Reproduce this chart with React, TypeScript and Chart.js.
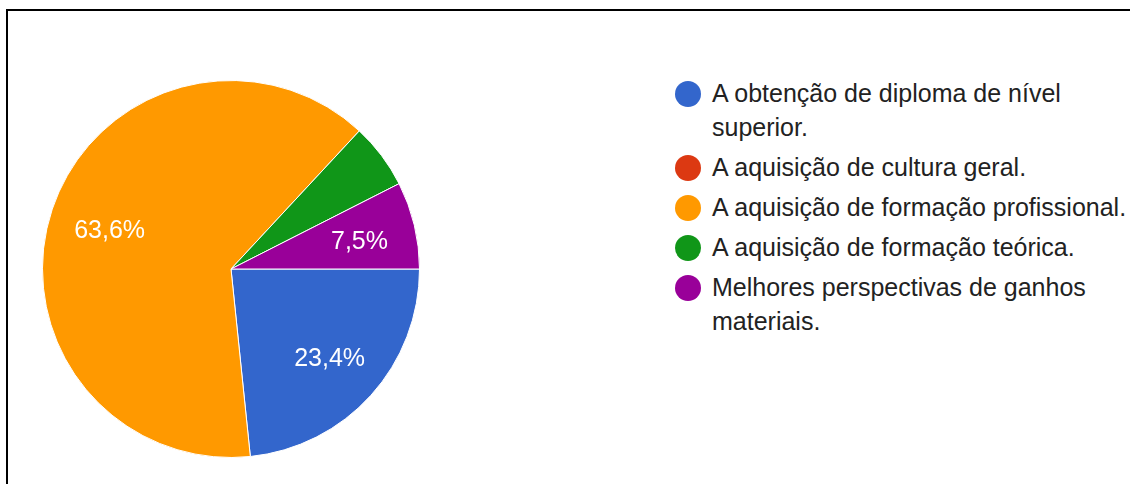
import React, { useEffect, useRef } from "react";
import { Chart, registerables } from "chart.js";

Chart.register(...registerables);

const categories: string[] = [
  "A obtenção de diploma de nível superior.",
  "A aquisição de cultura geral.",
  "A aquisição de formação profissional.",
  "A aquisição de formação teórica.",
  "Melhores perspectivas de ganhos materiais.",
];
const responses: number[] = [25, 0, 68, 6, 8];
const colors: string[] = ["#3366CC", "#DC3912", "#FF9900", "#109618", "#990099"];

const FONT = '"Liberation Sans", Arial, Helvetica, sans-serif';

const sliceLabels = {
  id: "sliceLabels",
  afterDatasetsDraw(chart: any) {
    const ctx = chart.ctx;
    const meta = chart.getDatasetMeta(0);
    const data = chart.data.datasets[0].data as number[];
    const total = data.reduce((a, b) => a + b, 0);
    ctx.save();
    ctx.fillStyle = "#ffffff";
    ctx.font = `25px ${FONT}`;
    ctx.textAlign = "center";
    ctx.textBaseline = "middle";
    meta.data.forEach((arc: any, i: number) => {
      const pct = (data[i] / total) * 100;
      if (pct < 6) return;
      const p = arc.getProps(["x", "y", "startAngle", "endAngle", "outerRadius"], true);
      const mid = (p.startAngle + p.endAngle) / 2;
      const r = p.outerRadius * 0.69;
      const label = pct.toFixed(1).replace(".", ",") + "%";
      ctx.fillText(label, p.x + Math.cos(mid) * r + 2, p.y + Math.sin(mid) * r + 3);
    });
    ctx.restore();
  },
};

function PieChart() {
  const ref = useRef<HTMLCanvasElement | null>(null);
  useEffect(() => {
    if (!ref.current) return;
    const chart = new Chart(ref.current, {
      type: "pie",
      data: {
        labels: categories,
        datasets: [
          {
            data: responses,
            backgroundColor: colors,
            borderColor: "#ffffff",
            borderWidth: 1,
          },
        ],
      },
      options: {
        animation: false,
        responsive: false,
        rotation: 90,
        layout: { padding: 0 },
        plugins: {
          legend: { display: false },
          tooltip: { enabled: false },
        },
      },
      plugins: [sliceLabels],
    });
    return () => chart.destroy();
  }, []);
  return (
    <canvas
      ref={ref}
      width={378}
      height={378}
      style={{ position: "absolute", left: 42, top: 80, width: 378, height: 378 }}
    />
  );
}

export default function App() {
  useEffect(() => {
    document.body.style.margin = "0";
  }, []);
  return (
    <div
      style={{
        position: "fixed",
        left: 0,
        top: 0,
        width: 1130,
        height: 484,
        overflow: "hidden",
        background: "#ffffff",
        fontFamily: FONT,
      }}
    >
      <div
        style={{
          position: "absolute",
          left: 6,
          top: 9,
          width: 1300,
          height: 700,
          border: "2px solid #000",
          boxSizing: "border-box",
        }}
      />
      <PieChart />
      <div style={{ position: "absolute", left: 675, top: 76 }}>
        {categories.map((c, i) => (
          <div key={c} style={{ display: "flex", alignItems: "flex-start", marginBottom: 6 }}>
            <div
              style={{
                width: 26,
                height: 26,
                borderRadius: "50%",
                background: colors[i],
                marginTop: 5,
                flexShrink: 0,
              }}
            />
            <div
              style={{
                marginLeft: 11,
                width: 430,
                fontSize: 25,
                lineHeight: "34px",
                color: "#222222",
              }}
            >
              {c}
            </div>
          </div>
        ))}
      </div>
    </div>
  );
}
